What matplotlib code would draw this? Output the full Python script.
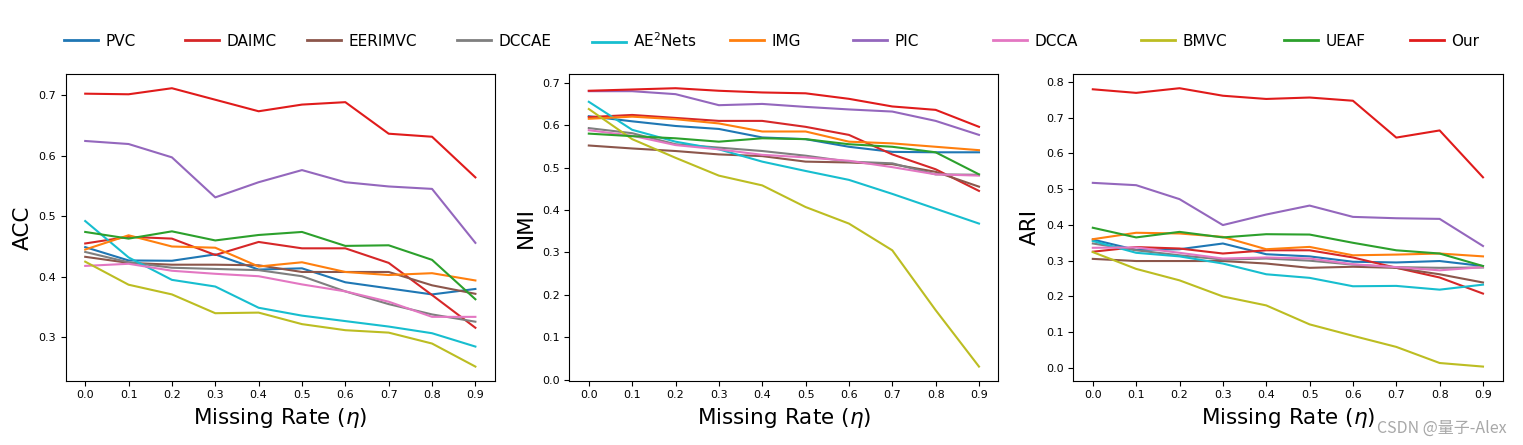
import matplotlib
matplotlib.use("Agg")
import matplotlib.pyplot as plt
import numpy as np

missing_rates = [0.0, 0.1, 0.2, 0.3, 0.4, 0.5, 0.6, 0.7, 0.8, 0.9]
methods = ["PVC", "DAIMC", "EERIMVC", "DCCAE", "AE$^2$Nets", "IMG",
           "PIC", "DCCA", "BMVC", "UEAF", "Our"]
colors = ["#1f77b4", "#d62728", "#8c564b", "#7f7f7f", "#17becf", "#ff7f0e",
          "#9467bd", "#e377c2", "#bcbd22", "#2ca02c", "#e01b1b"]

acc_pvc = [0.449, 0.427, 0.4265, 0.437, 0.412, 0.414, 0.391, 0.381, 0.371, 0.380]
acc_daimc = [0.455, 0.466, 0.463, 0.436, 0.4575, 0.447, 0.447, 0.423, 0.370, 0.316]
acc_eerimvc = [0.433, 0.423, 0.420, 0.420, 0.419, 0.408, 0.408, 0.408, 0.386, 0.372]
acc_dccae = [0.441, 0.424, 0.415, 0.413, 0.411, 0.401, 0.376, 0.355, 0.338, 0.326]
acc_ae2nets = [0.492, 0.432, 0.395, 0.384, 0.349, 0.336, 0.327, 0.318, 0.307, 0.285]
acc_img = [0.445, 0.4685, 0.450, 0.448, 0.417, 0.424, 0.408, 0.403, 0.406, 0.394]
acc_pic = [0.624, 0.619, 0.597, 0.531, 0.556, 0.576, 0.556, 0.549, 0.545, 0.456]
acc_dcca = [0.418, 0.4215, 0.410, 0.405, 0.401, 0.3875, 0.376, 0.359, 0.334, 0.334]
acc_bmvc = [0.425, 0.387, 0.371, 0.340, 0.341, 0.322, 0.312, 0.308, 0.290, 0.252]
acc_ueaf = [0.474, 0.463, 0.475, 0.460, 0.469, 0.474, 0.451, 0.452, 0.428, 0.363]
acc_our = [0.702, 0.701, 0.711, 0.692, 0.673, 0.684, 0.688, 0.636, 0.631, 0.564]

nmi_pvc = [0.621, 0.609, 0.598, 0.591, 0.571, 0.567, 0.549, 0.537, 0.536, 0.536]
nmi_daimc = [0.619, 0.624, 0.617, 0.610, 0.610, 0.596, 0.577, 0.531, 0.496, 0.445]
nmi_eerimvc = [0.552, 0.545, 0.539, 0.531, 0.527, 0.514, 0.512, 0.508, 0.490, 0.455]
nmi_dccae = [0.593, 0.581, 0.555, 0.547, 0.539, 0.528, 0.514, 0.510, 0.484, 0.483]
nmi_ae2nets = [0.655, 0.589, 0.561, 0.543, 0.514, 0.492, 0.471, 0.438, 0.403, 0.368]
nmi_img = [0.615, 0.620, 0.614, 0.604, 0.585, 0.585, 0.561, 0.557, 0.549, 0.541]
nmi_pic = [0.680, 0.680, 0.673, 0.647, 0.650, 0.643, 0.637, 0.632, 0.610, 0.577]
nmi_dcca = [0.588, 0.575, 0.553, 0.543, 0.530, 0.524, 0.516, 0.501, 0.484, 0.481]
nmi_bmvc = [0.638, 0.567, 0.523, 0.481, 0.458, 0.407, 0.368, 0.305, 0.164, 0.031]
nmi_ueaf = [0.580, 0.574, 0.569, 0.561, 0.569, 0.567, 0.555, 0.549, 0.536, 0.484]
nmi_our = [0.681, 0.684, 0.687, 0.681, 0.677, 0.675, 0.662, 0.644, 0.636, 0.596]

ari_pvc = [0.359, 0.330, 0.332, 0.348, 0.318, 0.312, 0.297, 0.295, 0.299, 0.285]
ari_daimc = [0.325, 0.338, 0.334, 0.320, 0.329, 0.329, 0.309, 0.280, 0.253, 0.208]
ari_eerimvc = [0.305, 0.299, 0.299, 0.299, 0.292, 0.280, 0.283, 0.280, 0.262, 0.239]
ari_dccae = [0.348, 0.329, 0.315, 0.303, 0.306, 0.300, 0.289, 0.282, 0.280, 0.281]
ari_ae2nets = [0.355, 0.322, 0.312, 0.292, 0.262, 0.252, 0.2285, 0.2295, 0.219, 0.233]
ari_img = [0.360, 0.378, 0.376, 0.3665, 0.332, 0.3385, 0.315, 0.317, 0.320, 0.312]
ari_pic = [0.5175, 0.511, 0.472, 0.3995, 0.429, 0.454, 0.4224, 0.4186, 0.4168, 0.341]
ari_dcca = [0.336, 0.337, 0.322, 0.306, 0.309, 0.306, 0.290, 0.282, 0.273, 0.282]
ari_bmvc = [0.324, 0.277, 0.245, 0.200, 0.175, 0.122, 0.090, 0.059, 0.014, 0.004]
ari_ueaf = [0.392, 0.365, 0.3805, 0.365, 0.374, 0.373, 0.350, 0.329, 0.320, 0.285]
ari_our = [0.779, 0.769, 0.782, 0.761, 0.752, 0.756, 0.747, 0.644, 0.664, 0.533]

acc = [acc_pvc, acc_daimc, acc_eerimvc, acc_dccae, acc_ae2nets, acc_img,
       acc_pic, acc_dcca, acc_bmvc, acc_ueaf, acc_our]
nmi = [nmi_pvc, nmi_daimc, nmi_eerimvc, nmi_dccae, nmi_ae2nets, nmi_img,
       nmi_pic, nmi_dcca, nmi_bmvc, nmi_ueaf, nmi_our]
ari = [ari_pvc, ari_daimc, ari_eerimvc, ari_dccae, ari_ae2nets, ari_img,
       ari_pic, ari_dcca, ari_bmvc, ari_ueaf, ari_our]

metrics = [("ACC", acc), ("NMI", nmi), ("ARI", ari)]

W, H = 1523, 445
fig = plt.figure(figsize=(W / 100, H / 100), dpi=100)

lefts = [65.7, 569.3, 1073.3]
ax_w = 429.2
ax_top, ax_bot = 74.3, 380.5

handles = None
for (name, data), lx in zip(metrics, lefts):
    ax = fig.add_axes([lx / W, 1 - ax_bot / H, ax_w / W, (ax_bot - ax_top) / H])
    hs = []
    for vals, c, lab in zip(data, colors, methods):
        h, = ax.plot(missing_rates, vals, color=c, lw=1.5, label=lab)
        hs.append(h)
    handles = hs
    ax.set_xticks(missing_rates)
    ax.set_xticklabels([f"{v:.1f}" for v in missing_rates])
    ax.tick_params(labelsize=8)
    ax.set_ylabel(name, fontsize=15.5)
    ax.set_xlabel("Missing Rate ($\\eta$)", fontsize=15.5)

# legend entries placed individually along the top
leg_x = [64, 185, 307, 457, 592, 730, 853, 993, 1141, 1284, 1410]
for h, lab, x in zip(handles, methods, leg_x):
    lg = fig.legend([h], [lab], loc="center left",
                    bbox_to_anchor=(x / W, 1 - 41 / H),
                    frameon=False, borderpad=0, borderaxespad=0,
                    handlelength=2.2, handletextpad=0.5, fontsize=11)
    for line in lg.get_lines():
        line.set_linewidth(2.0)

fig.text(1507 / W, 1 - 428 / H, "CSDN @量子-Alex", ha="right", va="center",
         fontsize=11.5, color="#a8a8a8",
         family=["Noto Sans CJK SC", "DejaVu Sans"])

fig.savefig("out.png", dpi=100)
